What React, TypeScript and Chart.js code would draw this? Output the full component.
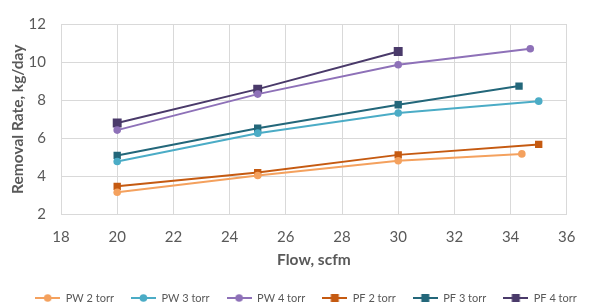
import React, { useEffect, useRef } from "react";
import { Chart, registerables } from "chart.js";

Chart.register(...registerables);

// ---- data ----
const seriesLabels = ["PW 2 torr", "PW 3 torr", "PW 4 torr", "PF 2 torr", "PF 3 torr", "PF 4 torr"];

const flowPW2 = [20, 25, 30, 34.4];
const ratePW2 = [3.17, 4.05, 4.82, 5.18];

const flowPW3 = [20, 25, 30, 35];
const ratePW3 = [4.78, 6.27, 7.33, 7.95];

const flowPW4 = [20, 25, 30, 34.7];
const ratePW4 = [6.43, 8.32, 9.86, 10.7];

const flowPF2 = [20, 25, 30, 35];
const ratePF2 = [3.48, 4.2, 5.13, 5.68];

const flowPF3 = [20, 25, 30, 34.3];
const ratePF3 = [5.1, 6.53, 7.76, 8.74];

const flowPF4 = [20, 25, 30];
const ratePF4 = [6.8, 8.58, 10.56];

const xTickValues = [18, 20, 22, 24, 26, 28, 30, 32, 34, 36];
const yTickValues = [2, 4, 6, 8, 10, 12];

const colors = ["#F4A15E", "#4BACC6", "#8E71B8", "#C55A11", "#23677A", "#4A3A6A"];
const markers = ["circle", "circle", "circle", "rect", "rect", "rect"];
const radii = [3.8, 3.8, 3.8, 5.2, 5.2, 6.3];

const FONT = "Lato, 'Open Sans', sans-serif";
const TEXT = "#595959";
const GRID = "#D9D9D9";

function pts(xs: number[], ys: number[]) {
  return xs.map((x, i) => ({ x, y: ys[i] }));
}

function legendIcon(color: string, marker: string) {
  const c = document.createElement("canvas");
  c.width = 25;
  c.height = 10;
  const ctx = c.getContext("2d")!;
  ctx.strokeStyle = color;
  ctx.lineWidth = 2;
  ctx.beginPath();
  ctx.moveTo(0, 5);
  ctx.lineTo(25, 5);
  ctx.stroke();
  ctx.fillStyle = color;
  if (marker === "circle") {
    ctx.beginPath();
    ctx.arc(12.5, 5, 3.8, 0, Math.PI * 2);
    ctx.fill();
  } else {
    ctx.fillRect(8.5, 1, 8, 8);
  }
  return c;
}

export default function App() {
  const ref = useRef<HTMLCanvasElement | null>(null);

  useEffect(() => {
    if (!ref.current) return;
    const series = [
      pts(flowPW2, ratePW2),
      pts(flowPW3, ratePW3),
      pts(flowPW4, ratePW4),
      pts(flowPF2, ratePF2),
      pts(flowPF3, ratePF3),
      pts(flowPF4, ratePF4),
    ];
    const icons = colors.map((c, i) => legendIcon(c, markers[i]));

    const legendLayoutPlugin = {
      id: "legendLayout",
      beforeInit(chart: any) {
        const lg = chart.legend;
        if (!lg) return;
        const orig = lg.fit;
        lg.fit = function () {
          orig.call(this);
          this.height = 31.5;
        };
      },
      afterLayout(chart: any) {
        const lg = chart.legend;
        if (!lg) return;
        lg.left += 16;
        lg.right += 16;
      },
    };

    const chart = new Chart(ref.current, {
      type: "line",
      data: {
        datasets: series.map((d, i) => ({
          label: seriesLabels[i],
          data: d,
          borderColor: colors[i],
          backgroundColor: colors[i],
          borderWidth: 2,
          pointStyle: markers[i] as any,
          pointRadius: radii[i],
          pointBorderWidth: 0,
          pointBackgroundColor: colors[i],
          tension: 0,
          fill: false,
        })),
      },
      options: {
        animation: false,
        responsive: false,
        layout: { padding: { left: 0, right: 9, top: 14.5, bottom: 0 } },
        plugins: {
          tooltip: { enabled: false },
          legend: {
            position: "bottom",
            labels: {
              usePointStyle: true,
              pointStyleWidth: 25,
              padding: 17,
              color: TEXT,
              font: { family: FONT, size: 11 },
              generateLabels: () =>
                seriesLabels.map((t, i) => ({
                  text: t,
                  pointStyle: icons[i] as any,
                  fillStyle: colors[i],
                  strokeStyle: colors[i],
                  lineWidth: 0,
                  fontColor: TEXT,
                  hidden: false,
                  datasetIndex: i,
                })),
            },
          },
        },
        scales: {
          x: {
            type: "linear",
            min: 18,
            max: 36,
            afterBuildTicks: (s: any) => {
              s.ticks = xTickValues.map((v) => ({ value: v }));
            },
            afterFit: (s: any) => {
              s.height = 61;
            },
            ticks: { color: TEXT, padding: 13.5, font: { family: FONT, size: 15 } },
            grid: { color: GRID, lineWidth: 1, drawTicks: false },
            border: { color: GRID, width: 1 },
            title: {
              display: true,
              text: "Flow, scfm",
              color: TEXT,
              font: { family: FONT, size: 15.5, weight: "bold" },
              padding: { top: 0, bottom: 6 },
            },
          },
          y: {
            type: "linear",
            min: 2,
            max: 12,
            afterBuildTicks: (s: any) => {
              s.ticks = yTickValues.map((v) => ({ value: v }));
            },
            afterFit: (s: any) => {
              s.width = 61;
            },
            ticks: { color: TEXT, padding: 15, font: { family: FONT, size: 15 } },
            grid: { color: GRID, lineWidth: 1, drawTicks: false },
            border: { color: GRID, width: 1 },
            title: {
              display: true,
              text: "Removal Rate, kg/day",
              color: TEXT,
              font: { family: FONT, size: 15.5, weight: "bold" },
              padding: { top: 9, bottom: 0 },
            },
          },
        },
      },
      plugins: [legendLayoutPlugin],
    });
    return () => chart.destroy();
  }, []);

  return (
    <canvas
      ref={ref}
      width={589}
      height={307}
      style={{ position: "absolute", left: 0, top: 0, width: 589, height: 307 }}
    />
  );
}
